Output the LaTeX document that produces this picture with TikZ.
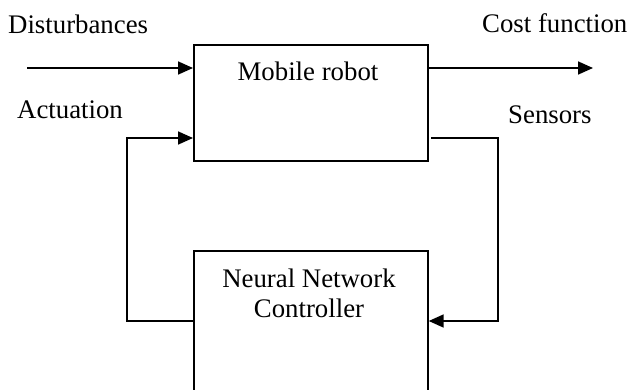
\documentclass[tikz,border=0pt]{standalone}
\usepackage{fontspec}
\setmainfont{Liberation Serif}
\usetikzlibrary{arrows.meta}
\tikzset{
  block/.style={draw=black, line width=1.7pt, fill=none, inner sep=0pt},
  lbl/.style={font=\fontsize{26.8}{30}\selectfont, inner sep=0pt, anchor=base west},
  wire/.style={line width=1.7pt, draw=black},
  arr/.style={wire, -{Triangle[length=15pt,width=13pt]}}
}
\begin{document}
\begin{tikzpicture}[x=1pt, y=-1pt]
  \clip (0,0) rectangle (630,389);
  \fill[white] (0,0) rectangle (630,389);

  % plant and controller blocks
  \node[block, minimum width=234pt, minimum height=116pt, anchor=north west] (robot) at (193,44) {};
  \node[block, minimum width=234pt, minimum height=170pt, anchor=north west] (nn) at (193,250) {};

  % block captions
  \node[lbl, anchor=base] (robottext) at (308,80) {Mobile robot};
  \node[lbl, anchor=base] (nntext1) at (309,287) {Neural Network};
  \node[lbl, anchor=base] (nntext2) at (309,317) {Controller};

  % signal labels
  \node[lbl] (dist) at (8,33) {Disturbances};
  \node[lbl] (act) at (17,118) {Actuation};
  \node[lbl] (cost) at (482,32) {Cost function};
  \node[lbl] (sens) at (508,123) {Sensors};

  % routing points
  \coordinate (din) at (27,68);
  \coordinate (cout) at (593,68);
  \coordinate (sstart) at (431,138);
  \coordinate (sright) at (498,138);
  \coordinate (aleft) at (127,321);

  % disturbance input and cost output
  \draw[arr] (din) -- (din -| robot.west);
  \draw[arr] (din -| robot.east) -- (cout);

  % sensor feedback into the controller
  \draw[arr] (sstart) -- (sright) -- (sright |- aleft) -- (aleft -| nn.east);

  % actuation from the controller back to the robot
  \draw[arr] (aleft -| nn.west) -- (aleft) -- (aleft |- sstart) -- (sstart -| robot.west);
\end{tikzpicture}
\end{document}
